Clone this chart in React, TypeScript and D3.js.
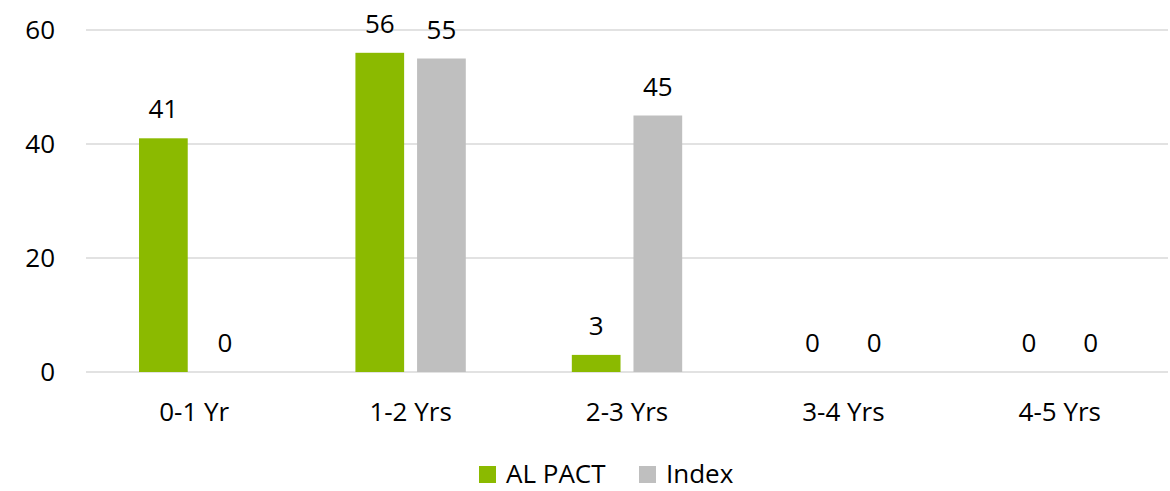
import { useEffect, useRef } from 'react';
import * as d3 from 'd3';

const categories = ['0-1 Yr', '1-2 Yrs', '2-3 Yrs', '3-4 Yrs', '4-5 Yrs'];
const seriesNames = ['AL PACT', 'Index'];
const alPact = [41, 56, 3, 0, 0];
const indexValues = [0, 55, 45, 0, 0];
const yTicks = [0, 20, 40, 60];
const colors = ['#8BBA00', '#BFBFBF'];

export default function App() {
  const svgRef = useRef<SVGSVGElement>(null);

  useEffect(() => {
    if (!svgRef.current) return;
    const svg = d3.select(svgRef.current);
    svg.selectAll('*').remove();

    const left = 86, right = 1168, top = 30, bottom = 372;
    const font = "'Open Sans', 'Noto Sans', sans-serif";
    const fontSize = 26;

    const x = d3.scaleBand<string>()
      .domain(categories)
      .range([left, right])
      .paddingInner(0.49)
      .paddingOuter(0.245);

    const xs = d3.scaleBand<string>()
      .domain(seriesNames)
      .range([0, x.bandwidth()])
      .paddingInner(0.21);

    const y = d3.scaleLinear().domain([0, 60]).range([bottom, top]);

    // gridlines
    svg.append('g')
      .selectAll('line')
      .data(yTicks)
      .join('line')
      .attr('x1', left)
      .attr('x2', right)
      .attr('y1', d => y(d))
      .attr('y2', d => y(d))
      .attr('stroke', '#D9D9D9')
      .attr('stroke-width', 1.5);

    // y labels
    svg.append('g')
      .selectAll('text')
      .data(yTicks)
      .join('text')
      .attr('x', 55)
      .attr('y', d => y(d))
      .attr('dy', '0.35em')
      .attr('text-anchor', 'end')
      .attr('font-family', font)
      .attr('font-size', fontSize)
      .attr('fill', '#000')
      .text(d => d);

    const rows = categories.map((c, i) => ({ c, vals: [alPact[i], indexValues[i]] }));

    const groups = svg.append('g')
      .selectAll('g')
      .data(rows)
      .join('g')
      .attr('transform', d => `translate(${x(d.c)},0)`);

    groups.selectAll('rect')
      .data(d => d.vals.map((v, k) => ({ v, k })))
      .join('rect')
      .attr('x', d => xs(seriesNames[d.k])!)
      .attr('width', xs.bandwidth())
      .attr('y', d => y(d.v))
      .attr('height', d => y(0) - y(d.v))
      .attr('fill', d => colors[d.k]);

    groups.selectAll('text')
      .data(d => d.vals.map((v, k) => ({ v, k })))
      .join('text')
      .attr('x', d => xs(seriesNames[d.k])! + xs.bandwidth() / 2)
      .attr('y', d => y(d.v) - 29)
      .attr('dy', '0.35em')
      .attr('text-anchor', 'middle')
      .attr('font-family', font)
      .attr('font-size', fontSize)
      .attr('fill', '#000')
      .text(d => d.v);

    // category labels
    svg.append('g')
      .selectAll('text')
      .data(categories)
      .join('text')
      .attr('x', d => x(d)! + x.bandwidth() / 2)
      .attr('y', 412)
      .attr('dy', '0.35em')
      .attr('text-anchor', 'middle')
      .attr('font-family', font)
      .attr('font-size', fontSize)
      .attr('fill', '#000')
      .text(d => d);

    // legend
    const legendX = [479, 639];
    const legend = svg.append('g')
      .selectAll('g')
      .data(seriesNames)
      .join('g')
      .attr('transform', (d, i) => `translate(${legendX[i]},466)`);
    legend.append('rect')
      .attr('width', 17)
      .attr('height', 17)
      .attr('fill', (d, i) => colors[i]);
    legend.append('text')
      .attr('x', 27)
      .attr('y', 7.5)
      .attr('dy', '0.35em')
      .attr('font-family', font)
      .attr('font-size', fontSize)
      .attr('fill', '#000')
      .text(d => d);
  }, []);

  return (
    <svg ref={svgRef} width={1170} height={491} style={{ display: 'block', position: 'absolute', left: 0, top: 0, background: '#fff' }} />
  );
}
